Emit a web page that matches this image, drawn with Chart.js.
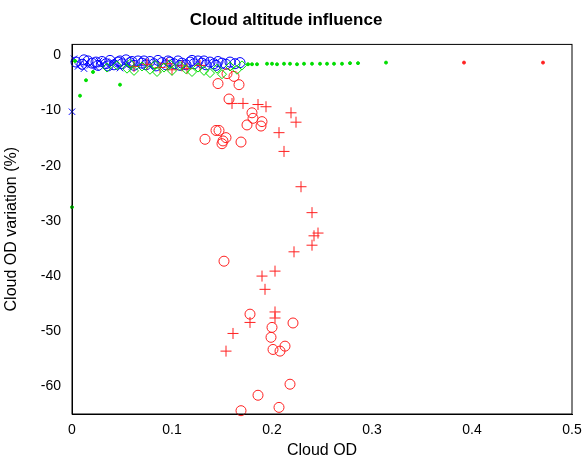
<!DOCTYPE html>
<html><head><meta charset="utf-8">
<script src="https://cdn.jsdelivr.net/npm/chart.js@4"></script>
<style>body{margin:0;background:#fff}#wrap{width:587px;height:468px}</style>
</head><body><div id="wrap"><canvas id="c"></canvas></div>
<script>
// [x, y] pairs
const redPlus = [[0.160,-8.7],[0.171,-8.7],[0.186,-8.9],[0.194,-9.3],[0.219,-10.4],[0.224,-12.1],[0.207,-14.0],[0.212,-17.4],
  [0.229,-23.8],[0.240,-28.5],[0.246,-32.2],[0.242,-32.7],[0.240,-34.4],[0.222,-35.6],[0.203,-39.1],[0.190,-40.0],[0.193,-42.4],
  [0.203,-46.5],[0.203,-47.6],[0.178,-48.4],[0.161,-50.4],[0.154,-53.6],[0.062,-2.0],[0.075,-1.6],[0.088,-2.2],[0.100,-2.6],
  [0.115,-2.4],[0.128,-1.8],[0.110,-1.9],[0.095,-1.5]];
const redCircle = [[0.146,-5.1],[0.167,-5.3],[0.157,-7.9],[0.180,-10.4],[0.181,-11.4],[0.175,-12.6],[0.190,-12.0],[0.189,-12.8],
  [0.144,-13.6],[0.147,-13.6],[0.133,-15.2],[0.154,-14.9],[0.151,-15.5],[0.150,-16.0],[0.169,-15.7],[0.152,-37.3],
  [0.178,-46.9],[0.200,-49.3],[0.199,-51.1],[0.221,-48.5],[0.201,-53.3],[0.208,-53.6],[0.213,-52.7],[0.218,-59.6],
  [0.186,-61.6],[0.169,-64.4],[0.207,-63.8],[0.155,-3.3],[0.162,-3.8]];
const redDot = [[0.392,-1.3],[0.471,-1.3]];
const greenDot = [[0.000,-27.5],[0.008,-7.3],[0.014,-4.5],[0.021,-3.0],[0.048,-5.3],[0.003,-1.0],[0.180,-1.6],[0.185,-1.6],
  [0.195,-1.5],[0.200,-1.5],[0.205,-1.6],[0.212,-1.5],[0.218,-1.5],[0.225,-1.6],[0.232,-1.5],[0.240,-1.5],[0.248,-1.5],
  [0.255,-1.5],[0.262,-1.5],[0.270,-1.5],[0.278,-1.4],[0.286,-1.4],[0.314,-1.3],[0.176,-1.6]];
const greenDiamond = [[0.035,-2.2],[0.045,-1.8],[0.055,-2.4],[0.062,-2.8],[0.070,-2.0],[0.078,-2.6],[0.085,-3.0],[0.092,-2.2],
  [0.100,-2.8],[0.108,-1.9],[0.114,-2.5],[0.120,-3.0],[0.126,-2.2],[0.132,-2.8],[0.138,-3.2],[0.145,-2.4],[0.150,-3.4],
  [0.158,-2.0],[0.165,-2.6],[0.170,-1.8],[0.058,-1.5],[0.083,-1.7],[0.098,-1.6]];
const blueCircle = [[0.004,-1.2],[0.010,-1.6],[0.016,-1.0],[0.020,-1.4],[0.026,-1.8],[0.030,-1.1],[0.034,-1.5],[0.038,-0.9],
  [0.042,-1.7],[0.046,-1.2],[0.050,-1.5],[0.054,-0.8],[0.058,-1.3],[0.062,-1.8],[0.066,-1.0],[0.070,-1.4],[0.074,-1.7],
  [0.078,-1.1],[0.082,-1.5],[0.086,-0.9],[0.090,-1.3],[0.094,-1.7],[0.098,-1.2],[0.102,-1.5],[0.106,-1.0],[0.110,-1.4],
  [0.114,-1.7],[0.118,-1.2],[0.122,-1.5],[0.126,-1.0],[0.130,-1.4],[0.134,-1.7],[0.138,-1.2],[0.142,-1.5],[0.146,-1.1],
  [0.150,-1.4],[0.154,-1.6],[0.158,-1.2],[0.163,-1.5],[0.168,-1.3],[0.012,-0.8],[0.024,-1.2],[0.036,-1.9],[0.048,-1.0],
  [0.060,-1.1],[0.072,-1.0],[0.084,-1.9],[0.096,-1.0],[0.108,-1.8],[0.120,-0.9],[0.132,-1.0],[0.144,-1.8]];
const blueCross = [[0.000,-10.2],[0.002,-0.6],[0.006,-2.0],[0.012,-2.4],[0.018,-1.8],[0.024,-2.2],[0.030,-1.6],[0.036,-2.0],
  [0.042,-1.4],[0.048,-2.3],[0.054,-1.7],[0.060,-2.0],[0.008,-1.5],[0.015,-1.2],[0.027,-1.0],[0.040,-1.1]];

const pts = a => a.map(p => ({x: p[0], y: p[1]}));
const RED = '#ff2020', GREEN = '#00dd00', BLUE = '#0000ff';
const set = (data, style, color, r, fill) => ({
  data: pts(data), pointStyle: style, pointRadius: r, pointBorderWidth: 1, clip: false,
  borderColor: color, backgroundColor: fill ? color : 'rgba(0,0,0,0)', showLine: false
});

const boxPlugin = {
  id: 'box',
  afterDraw(chart) {
    const a = chart.chartArea, c = chart.ctx;
    c.save(); c.strokeStyle = '#000'; c.lineWidth = 1;
    c.strokeRect(a.left, a.top, a.right - a.left, a.bottom - a.top);
    c.restore();
  }
};

new Chart(document.getElementById('c'), {
  type: 'scatter',
  data: { datasets: [
    set(greenDot, 'circle', GREEN, 1.5, true),
    set(redDot, 'circle', RED, 1.5, true),
    set(greenDiamond, 'rectRot', GREEN, 4.5, false),
    set(redCircle, 'circle', RED, 5, false),
    set(redPlus, 'cross', RED, 5.5, false),
    set(blueCross, 'crossRot', BLUE, 4.5, false),
    set(blueCircle, 'circle', BLUE, 5, false)
  ]},
  options: {
    animation: false, responsive: true, maintainAspectRatio: false,
    layout: { padding: { right: 15, top: 2, bottom: 6 } },
    plugins: {
      legend: { display: false }, tooltip: { enabled: false },
      title: { display: true, text: 'Cloud altitude influence', color: '#000',
        font: { family: 'Arial, Liberation Sans', size: 17, weight: 'bold' }, padding: { top: 8, bottom: 14 } }
    },
    scales: {
      x: { min: 0, max: 0.5, grid: { display: false }, border: { color: '#000' },
        ticks: { stepSize: 0.1, color: '#000', padding: 0, font: { family: 'Arial, Liberation Sans', size: 14 },
          callback: v => +v.toFixed(1) + '' },
        title: { display: true, text: 'Cloud OD', color: '#000', font: { family: 'Arial, Liberation Sans', size: 16 }, padding: 2 } },
      y: { min: -65, max: 2, grid: { display: false }, border: { color: '#000' },
        afterFit: s => { s.width = 72; },
        ticks: { stepSize: 10, color: '#000', font: { family: 'Arial, Liberation Sans', size: 14 } },
        afterBuildTicks: s => { s.ticks = [-60,-50,-40,-30,-20,-10,0].map(v => ({value: v})); },
        title: { display: true, text: 'Cloud OD variation (%)', color: '#000', font: { family: 'Arial, Liberation Sans', size: 16 }, padding: 2 } }
    }
  },
  plugins: [boxPlugin]
});
</script></body></html>
